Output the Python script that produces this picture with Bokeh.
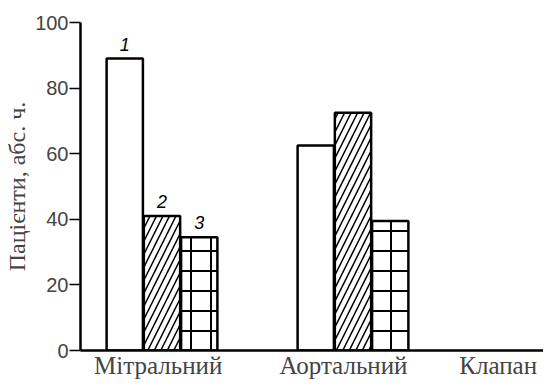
from bokeh.plotting import figure
from bokeh.models import Range1d, FixedTicker, ColumnDataSource
from bokeh.core.properties import value
from bokeh.embed import file_html
from bokeh.resources import INLINE

# ---- data ----
categories = ["Мітральний", "Аортальний"]
group_x = [1, 2]
series1 = [89, 62.5]
series2 = [41, 72.5]
series3 = [34.5, 39.5]
series_names = ["1", "2", "3"]
y_ticks = [0, 20, 40, 60, 80, 100]
x_title = "Клапан"
y_title = "Пацієнти, абс. ч."

# ---- layout constants ----
offsets = [-0.195, 0.0, 0.195]
bar_w = 0.19
label_pos = [0.98, 1.95, 2.76]
SERIF = "Times New Roman"

p = figure(width=543, height=381, output_backend="svg", toolbar_location=None,
           x_range=Range1d(0.5733, 2.9974), y_range=Range1d(0, 100),
           min_border_left=80, min_border_right=0, min_border_top=22,
           min_border_bottom=20)
p.background_fill_color = "white"
p.border_fill_color = "white"
p.outline_line_color = None
p.grid.visible = False

series = [series1, series2, series3]
hatches = [None, "/", "+"]
hscale = [None, 13, 20]
hweight = [None, 1.5, 2]
for i, vals in enumerate(series):
    src = ColumnDataSource(dict(x=[g + offsets[i] for g in group_x], top=vals))
    kw = dict(x="x", top="top", bottom=0, width=bar_w, source=src,
              fill_color="white", line_color="black", line_width=2.5)
    if hatches[i]:
        kw.update(hatch_pattern=hatches[i], hatch_color="black",
                  hatch_scale=hscale[i], hatch_weight=hweight[i])
    p.vbar(**kw)

# series number labels over the first group
lbl = ColumnDataSource(dict(x=[group_x[0] + o for o in offsets],
                            y=[s[0] for s in series], t=series_names))
p.text(x="x", y="y", text="t", source=lbl, text_align="center",
       text_baseline="bottom", y_offset=-8, text_font=value("Liberation Sans"),
       text_font_style="italic", text_font_size="18px", text_color="black")

# y axis
ya = p.yaxis[0]
ya.ticker = FixedTicker(ticks=y_ticks)
ya.axis_label = y_title
ya.axis_label_text_font = SERIF
ya.axis_label_text_font_style = "normal"
ya.axis_label_text_font_size = "24px"
ya.axis_label_standoff = 2
ya.major_label_text_font = "Liberation Sans"
ya.major_label_text_font_size = "20px"
ya.major_label_standoff = 1
ya.major_tick_out = 11
ya.major_tick_in = 0
ya.minor_tick_out = 0
ya.minor_tick_in = 0
ya.axis_line_width = 2.5
ya.major_tick_line_width = 1.5

# x axis
xa = p.xaxis[0]
xa.ticker = FixedTicker(ticks=label_pos)
xa.major_label_overrides = {label_pos[0]: categories[0],
                            label_pos[1]: categories[1],
                            label_pos[2]: x_title}
xa.major_label_text_font = SERIF
xa.major_label_text_font_size = "25px"
xa.major_label_standoff = 1
xa.major_tick_out = 0
xa.major_tick_in = 0
xa.minor_tick_out = 0
xa.minor_tick_in = 0
xa.axis_line_width = 2.5

open("out.html", "w").write(file_html(p, INLINE))
